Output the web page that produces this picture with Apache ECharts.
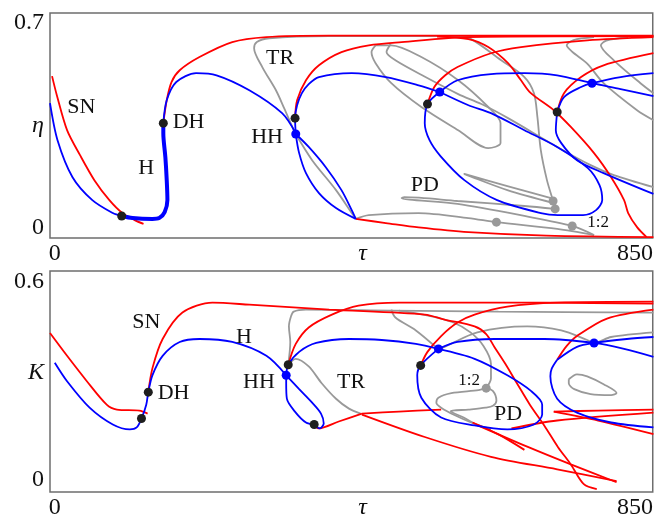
<!DOCTYPE html>
<html lang="en">
<head>
<meta charset="UTF-8">
<title>bifurcation</title>
<script src="https://cdn.jsdelivr.net/npm/echarts@6/dist/echarts.min.js"></script>
<style>html,body{margin:0;padding:0;background:#fff}</style>
</head>
<body>
<div id="chart" style="width:656px;height:520px;"></div>
<script>
// tick labels
var tauTicks = [0, 451, 850];
var etaTicks = [0, 0.35, 0.7];
var kTicks = [0, 0.324, 0.6];

// ---- top panel (tau, eta) ----
var etaSN1 = [[-4,0.517],[3,0.452],[18,0.333],[37,0.248],[58,0.163],[80,0.095],[99,0.051],[117,0.027],[130,0.014]];
var etaH1 = [[-7,0.425],[4,0.299],[26,0.173],[55,0.095],[85,0.051],[98,0.041]];
var etaHthick = [[98,0.041],[114,0.034],[143,0.031],[153,0.034],[161,0.054],[165,0.095],[164,0.163],[162,0.241],[159,0.323],[159,0.357]];
var etaH2 = [[159,0.357],[164,0.435],[178,0.497],[207,0.527],[237,0.520],[285,0.469],[333,0.391],[353,0.323]];
var etaSN2 = [[159,0.357],[164,0.435],[171,0.497],[183,0.537],[212,0.582],[260,0.633],[310,0.650],[402,0.655],[877,0.655]];
var etaLensA = [[353,0.320],[372,0.276],[397,0.207],[420,0.129],[435,0.061],[441,0.031]];
var etaLensB = [[353,0.320],[358,0.255],[368,0.187],[387,0.119],[412,0.068],[441,0.031]];
var etaH3 = [[353,0.320],[352,0.374],[355,0.418],[362,0.459],[372,0.490],[387,0.514],[435,0.527],[485,0.514],[533,0.486],[564,0.463]];
var etaLoop1 = [[564,0.463],[606,0.418],[639,0.391],[688,0.333],[736,0.276],[781,0.204],[798,0.146],[802,0.095],[793,0.061],[774,0.044],[737,0.044],[712,0.051],[648,0.095],[600,0.163],[565,0.245],[549,0.299],[542,0.357],[546,0.422],[564,0.463]];
var etaH4 = [[564,0.463],[590,0.503],[639,0.524],[688,0.527],[736,0.520],[787,0.493],[829,0.473],[877,0.449]];
var etaLoop2a = [[736,0.395],[734,0.333],[742,0.289],[765,0.231],[804,0.187],[877,0.116]];
var etaLoop2b = [[736,0.395],[746,0.446],[771,0.480],[787,0.493],[829,0.514],[877,0.527]];
var etaR1 = [[352,0.374],[355,0.435],[368,0.503],[387,0.554],[420,0.599],[460,0.622],[508,0.633],[606,0.650],[877,0.653]];
var etaR2 = [[546,0.422],[556,0.480],[572,0.520],[590,0.548],[639,0.595],[683,0.616],[780,0.639],[877,0.650]];
var etaR3 = [[736,0.395],[746,0.459],[771,0.514],[804,0.554],[877,0.595]];
var etaR4 = [[560,0.652],[606,0.643],[635,0.616],[664,0.561],[683,0.503],[697,0.460],[731,0.401],[756,0.344],[790,0.255],[815,0.173],[834,0.095],[840,0.051],[853,0.003],[867,-0.031]];
var etaR5 = [[441,0.031],[485,0.017],[533,0.002],[606,-0.014],[720,-0.026],[877,-0.031]];
var etaTR = [[353,0.320],[350,0.333],[336,0.408],[324,0.469],[304,0.548],[292,0.612],[296,0.633],[314,0.646],[402,0.653],[877,0.653]];
var etaTRdown = [[353,0.320],[377,0.231],[412,0.129],[435,0.051],[441,0.031]];
var etaL1 = [[441,0.031],[460,0.044],[533,0.051],[606,0.034],[647,0.020],[736,-0.003],[790,-0.024]];
var etaPDa = [[731,0.099],[663,0.143],[600,0.184],[604,0.180],[663,0.129],[731,0.085]];
var etaPDb = [[733,0.065],[688,0.075],[590,0.092],[512,0.105],[508,0.102],[590,0.082],[688,0.041],[758,0.007],[790,-0.024]];
var etaV = [[590,0.652],[610,0.643],[654,0.571],[688,0.514],[702,0.459],[707,0.378],[712,0.265],[721,0.163],[730,0.092],[733,0.065]];
var etaT1 = [[470,0.622],[464,0.599],[470,0.561],[493,0.493],[537,0.412],[591,0.333],[635,0.272],[653,0.289],[653,0.357],[635,0.412],[591,0.503],[537,0.582],[493,0.622],[470,0.622]];
var etaG1 = [[492,0.626],[486,0.599],[499,0.571],[543,0.514],[591,0.456],[625,0.422],[664,0.374],[736,0.276],[785,0.214],[819,0.180],[877,0.139]];
var etaG2 = [[790,0.650],[760,0.640],[750,0.622],[758,0.600],[780,0.560],[804,0.493],[853,0.401],[877,0.367]];
var etaG3 = [[840,0.650],[808,0.638],[800,0.622],[819,0.571],[858,0.493],[877,0.459]];
var etaBlackDots = [[98,0.041],[159,0.357],[352,0.374],[546,0.422],[736,0.395]];
var etaBlueDots = [[353,0.320],[564,0.463],[787,0.493]];
var etaGrayDots = [[647,0.020],[730,0.092],[733,0.065],[758,0.007]];
var etaLabels = [['SN',39,0.412],['H',134,0.204],['DH',196,0.361],['HH',311,0.310],['TR',330,0.578],['PD',542,0.146],['1:2',796,0.017]];

// ---- bottom panel (tau, K) ----
var kSN1 = [[-7,0.443],[18,0.374],[47,0.297],[76,0.226],[91,0.211],[124,0.208],[136,0.199]];
var kH1 = [[0,0.353],[18,0.297],[51,0.217],[85,0.166],[110,0.151],[120,0.157],[127,0.184],[134,0.226],[137,0.264],[143,0.315],[158,0.374],[183,0.416],[212,0.425],[260,0.416],[310,0.374],[339,0.315]];
var kSN2 = [[137,0.264],[143,0.336],[158,0.425],[187,0.505],[231,0.535],[285,0.529],[402,0.514],[542,0.499],[571,0.484],[615,0.463],[632,0.440],[644,0.401],[660,0.350],[677,0.291],[696,0.226],[717,0.163],[737,0.098],[756,0.045],[775,-0.015],[794,-0.030]];
var kLensA = [[339,0.315],[358,0.273],[377,0.232],[390,0.199],[394,0.169],[388,0.154],[380,0.166]];
var kLensB = [[339,0.315],[339,0.291],[340,0.244],[353,0.202],[368,0.172],[380,0.166]];
var kH3 = [[339,0.315],[342,0.347],[358,0.386],[383,0.413],[431,0.425],[479,0.422],[529,0.410],[562,0.395]];
var kLoop1 = [[562,0.395],[615,0.365],[663,0.315],[698,0.267],[714,0.226],[714,0.196],[702,0.166],[663,0.151],[615,0.163],[566,0.187],[537,0.247],[531,0.315],[536,0.345],[562,0.395]];
var kH4 = [[562,0.395],[590,0.416],[644,0.425],[717,0.425],[790,0.413],[834,0.395],[877,0.371]];
var kLoop2a = [[736,0.362],[728,0.335],[726,0.312],[736,0.244],[765,0.202],[815,0.172],[877,0.157]];
var kLoop2b = [[736,0.362],[765,0.401],[790,0.413],[838,0.425],[877,0.431]];
var kR1 = [[342,0.347],[353,0.410],[372,0.460],[406,0.499],[445,0.526],[504,0.535],[591,0.535],[717,0.535],[877,0.532]];
var kR2 = [[536,0.345],[546,0.386],[566,0.434],[590,0.475],[615,0.499],[663,0.523],[736,0.535],[877,0.538]];
var kR3 = [[736,0.362],[750,0.404],[765,0.434],[809,0.487],[877,0.514]];
var kRb1 = [[380,0.166],[386,0.154],[416,0.175],[450,0.199]];
var kRb2 = [[450,0.199],[504,0.205],[566,0.211]];
var kRb3 = [[450,0.196],[542,0.128],[639,0.068],[736,0.030],[823,-0.006]];
var kRb4 = [[612,0.172],[650,0.136],[688,0.089]];
var kRb5 = [[618,0.165],[693,0.098],[756,0.045],[823,-0.009]];
var kRb6 = [[669,0.154],[736,0.178],[877,0.202]];
var kRb7 = [[731,0.205],[796,0.208],[877,0.211]];
var kRb8 = [[731,0.205],[796,0.178],[877,0.137]];
var kTR1 = [[342,0.347],[345,0.416],[343,0.463],[346,0.493],[350,0.508],[368,0.514],[493,0.511],[650,0.508],[877,0.505]];
var kTR2 = [[342,0.347],[353,0.365],[372,0.342],[391,0.291],[412,0.244],[431,0.214],[448,0.199]];
var kG2 = [[493,0.514],[499,0.490],[529,0.451],[558,0.401]];
var kG3 = [[504,0.511],[547,0.496],[584,0.475],[609,0.445],[628,0.404],[639,0.350],[639,0.306],[632,0.276]];
var kG4 = [[632,0.276],[621,0.270],[581,0.261],[562,0.247],[559,0.232],[566,0.217],[587,0.193],[610,0.172],[631,0.157],[639,0.151]];
var kG5 = [[632,0.276],[642,0.267],[647,0.238],[642,0.223],[631,0.217],[606,0.211],[580,0.206],[599,0.187],[620,0.163],[639,0.151]];
var kArch = [[562,0.395],[571,0.401],[619,0.445],[692,0.463],[742,0.451],[780,0.422],[790,0.413],[815,0.431],[877,0.445]];
var kSmall = [[753,0.303],[765,0.318],[780,0.312],[804,0.288],[823,0.261],[815,0.255],[785,0.258],[761,0.273],[753,0.291],[753,0.303]];
var kBlackDots = [[127,0.184],[137,0.264],[342,0.347],[380,0.166],[536,0.345]];
var kBlueDots = [[339,0.315],[562,0.395],[790,0.413]];
var kGrayDots = [[632,0.276]];
var kLabels = [['SN',134,0.475],['DH',174,0.261],['H',277,0.431],['HH',299,0.294],['TR',434,0.294],['1:2',607,0.300],['PD',664,0.196]];

var RED = '#ff0000', BLUE = '#0000ff', GRAY = '#999999', BLACK = '#1e1e1e';
var SERIF = '"Liberation Serif", "DejaVu Serif", serif';

function curve(data, color, width, p) {
    return {
        type: 'line', xAxisIndex: p, yAxisIndex: p, data: data,
        showSymbol: false, smooth: 0.3, silent: true,
        lineStyle: { color: color, width: width }
    };
}
function dots(data, color, p) {
    return {
        type: 'scatter', xAxisIndex: p, yAxisIndex: p, data: data,
        symbolSize: 9, itemStyle: { color: color, opacity: 1 }, silent: true, z: 5
    };
}
function labels(list, p, size) {
    return {
        type: 'scatter', xAxisIndex: p, yAxisIndex: p, symbolSize: 0, silent: true, z: 6,
        itemStyle: { opacity: 1 },
        data: list.map(function (l) { return { name: l[0], value: [l[1], l[2]] }; }),
        label: {
            show: true, position: 'inside', formatter: '{b}', color: '#111', opacity: 1,
            fontFamily: SERIF, fontSize: size
        }
    };
}

var series = [];
[etaTR, etaTRdown, etaL1, etaPDa, etaPDb, etaV, etaT1, etaG1, etaG2, etaG3].forEach(function (d) { series.push(curve(d, GRAY, 1.8, 0)); });
[etaSN1, etaSN2, etaR1, etaR2, etaR3, etaR4, etaR5].forEach(function (d) { series.push(curve(d, RED, 1.8, 0)); });
[etaH1, etaH2, etaLensA, etaLensB, etaH3, etaLoop1, etaH4, etaLoop2a, etaLoop2b].forEach(function (d) { series.push(curve(d, BLUE, 1.8, 0)); });
series.push(curve(etaHthick, BLUE, 4, 0));
series.push(dots(etaBlackDots, BLACK, 0), dots(etaBlueDots, BLUE, 0), dots(etaGrayDots, GRAY, 0));
series.push(labels(etaLabels.filter(function (l) { return l[0] !== '1:2'; }), 0, 22));
series.push(labels(etaLabels.filter(function (l) { return l[0] === '1:2'; }), 0, 17));

[kTR1, kTR2, kG2, kG3, kG4, kG5, kArch, kSmall].forEach(function (d) { series.push(curve(d, GRAY, 1.8, 1)); });
[kSN1, kSN2, kR1, kR2, kR3, kRb1, kRb2, kRb3, kRb4, kRb5, kRb6, kRb7, kRb8].forEach(function (d) { series.push(curve(d, RED, 1.8, 1)); });
[kH1, kLensA, kLensB, kH3, kLoop1, kH4, kLoop2a, kLoop2b].forEach(function (d) { series.push(curve(d, BLUE, 1.8, 1)); });
series.push(dots(kBlackDots, BLACK, 1), dots(kBlueDots, BLUE, 1), dots(kGrayDots, GRAY, 1));
series.push(labels(kLabels.filter(function (l) { return l[0] !== '1:2'; }), 1, 22));
series.push(labels(kLabels.filter(function (l) { return l[0] === '1:2'; }), 1, 17));

function near(a, b) { return Math.abs(a - b) < 1e-6; }
var tickFont = { fontFamily: SERIF, fontSize: 24, color: '#111' };

function xAxis(p) {
    return {
        type: 'value', gridIndex: p, min: -7, max: 876,
        axisLine: { show: false }, axisTick: { show: false }, splitLine: { show: false },
        axisLabel: Object.assign({
            customValues: tauTicks, margin: 4,
            formatter: function (v) { return near(v, tauTicks[1]) ? '{i|τ}' : String(v); },
            rich: { i: { fontStyle: 'italic', fontFamily: SERIF, fontSize: 24, color: '#111' } }
        }, tickFont)
    };
}
function yAxis(p, min, max, ticks, sym) {
    return {
        type: 'value', gridIndex: p, min: min, max: max,
        axisLine: { show: false }, axisTick: { show: false }, splitLine: { show: false },
        axisLabel: Object.assign({
            customValues: ticks, margin: 6,
            formatter: function (v) { return near(v, ticks[1]) ? '{i|' + sym + '}' : String(v); },
            rich: { i: { fontStyle: 'italic', fontFamily: SERIF, fontSize: 24, color: '#111' } }
        }, tickFont)
    };
}

var chart = echarts.init(document.getElementById('chart'));
chart.setOption({
    animation: false,
    backgroundColor: '#ffffff',
    grid: [
        { left: 50, top: 13, width: 605, height: 225, show: true, borderColor: '#6e6e6e', borderWidth: 1.5 },
        { left: 50, top: 271, width: 605, height: 225, show: true, borderColor: '#6e6e6e', borderWidth: 1.5 }
    ],
    xAxis: [xAxis(0), xAxis(1)],
    yAxis: [yAxis(0, -0.034, 0.732, etaTicks, 'η'), yAxis(1, -0.0386, 0.631, kTicks, 'K')],
    series: series
});
</script>
</body>
</html>
